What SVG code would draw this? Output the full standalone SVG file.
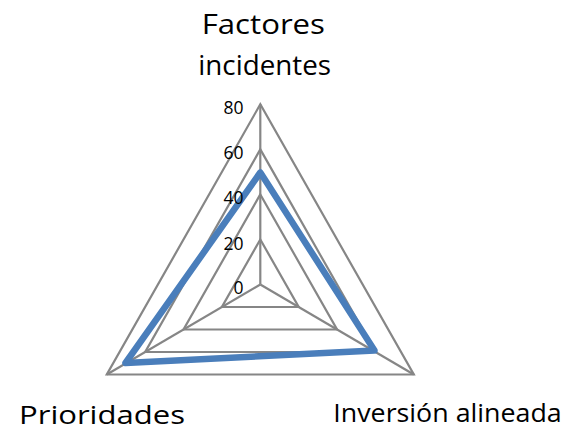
<svg xmlns="http://www.w3.org/2000/svg" width="567" height="431" viewBox="0 0 567 431">
<style>
.grid{fill:none;stroke:#868686;stroke-width:2.2;stroke-linejoin:miter}
.spoke{stroke:#868686;stroke-width:2.2}
.series{fill:none;stroke:#4A7EBB;stroke-width:6.5;stroke-linejoin:round}
.tick{font-family:"Open Sans","Liberation Sans",sans-serif;font-size:17.5px;fill:#000;text-anchor:end}
.cat{font-family:"Open Sans","Liberation Sans",sans-serif;font-size:27px;fill:#000}
</style>
<rect width="567" height="431" fill="#fff"/>
<g id="grid">
<polygon class="grid" points="260.3,239.45 221.9,307 298.7,307"/>
<polygon class="grid" points="260.3,194.4 183.55,329.5 337.05,329.5"/>
<polygon class="grid" points="260.3,149.35 145.2,352 375.4,352"/>
<polygon class="grid" points="260.3,104.3 106.8,374.5 413.8,374.5"/>
</g>
<g id="connectors">
<line class="spoke" x1="260.3" y1="284.5" x2="260.3" y2="104.3"/>
<line class="spoke" x1="260.3" y1="284.5" x2="106.8" y2="374.5"/>
<line class="spoke" x1="260.3" y1="284.5" x2="413.8" y2="374.5"/>
</g>
<g id="series">
<polygon class="series" points="260.3,172.5 125.5,363 374.5,350.5"/>
</g>
<g id="ticks">
<text class="tick" x="243.5" y="114">80</text>
<text class="tick" x="243.5" y="158.5">60</text>
<text class="tick" x="243.5" y="204">40</text>
<text class="tick" x="243.5" y="249.5">20</text>
<text class="tick" x="243.5" y="294">0</text>
</g>
<g id="node-factores">
<text class="cat" x="201.7" y="33.5" textLength="123.3" lengthAdjust="spacingAndGlyphs">Factores</text>
<text class="cat" x="198.3" y="75" textLength="132.7" lengthAdjust="spacingAndGlyphs">incidentes</text>
</g>
<g id="node-prioridades">
<text class="cat" x="19" y="424" style="font-size:26px" textLength="166" lengthAdjust="spacingAndGlyphs">Prioridades</text>
</g>
<g id="node-inversion">
<text class="cat" x="333.3" y="421.7" style="font-size:25px" textLength="228.4" lengthAdjust="spacingAndGlyphs">Inversión alineada</text>
</g>
</svg>
